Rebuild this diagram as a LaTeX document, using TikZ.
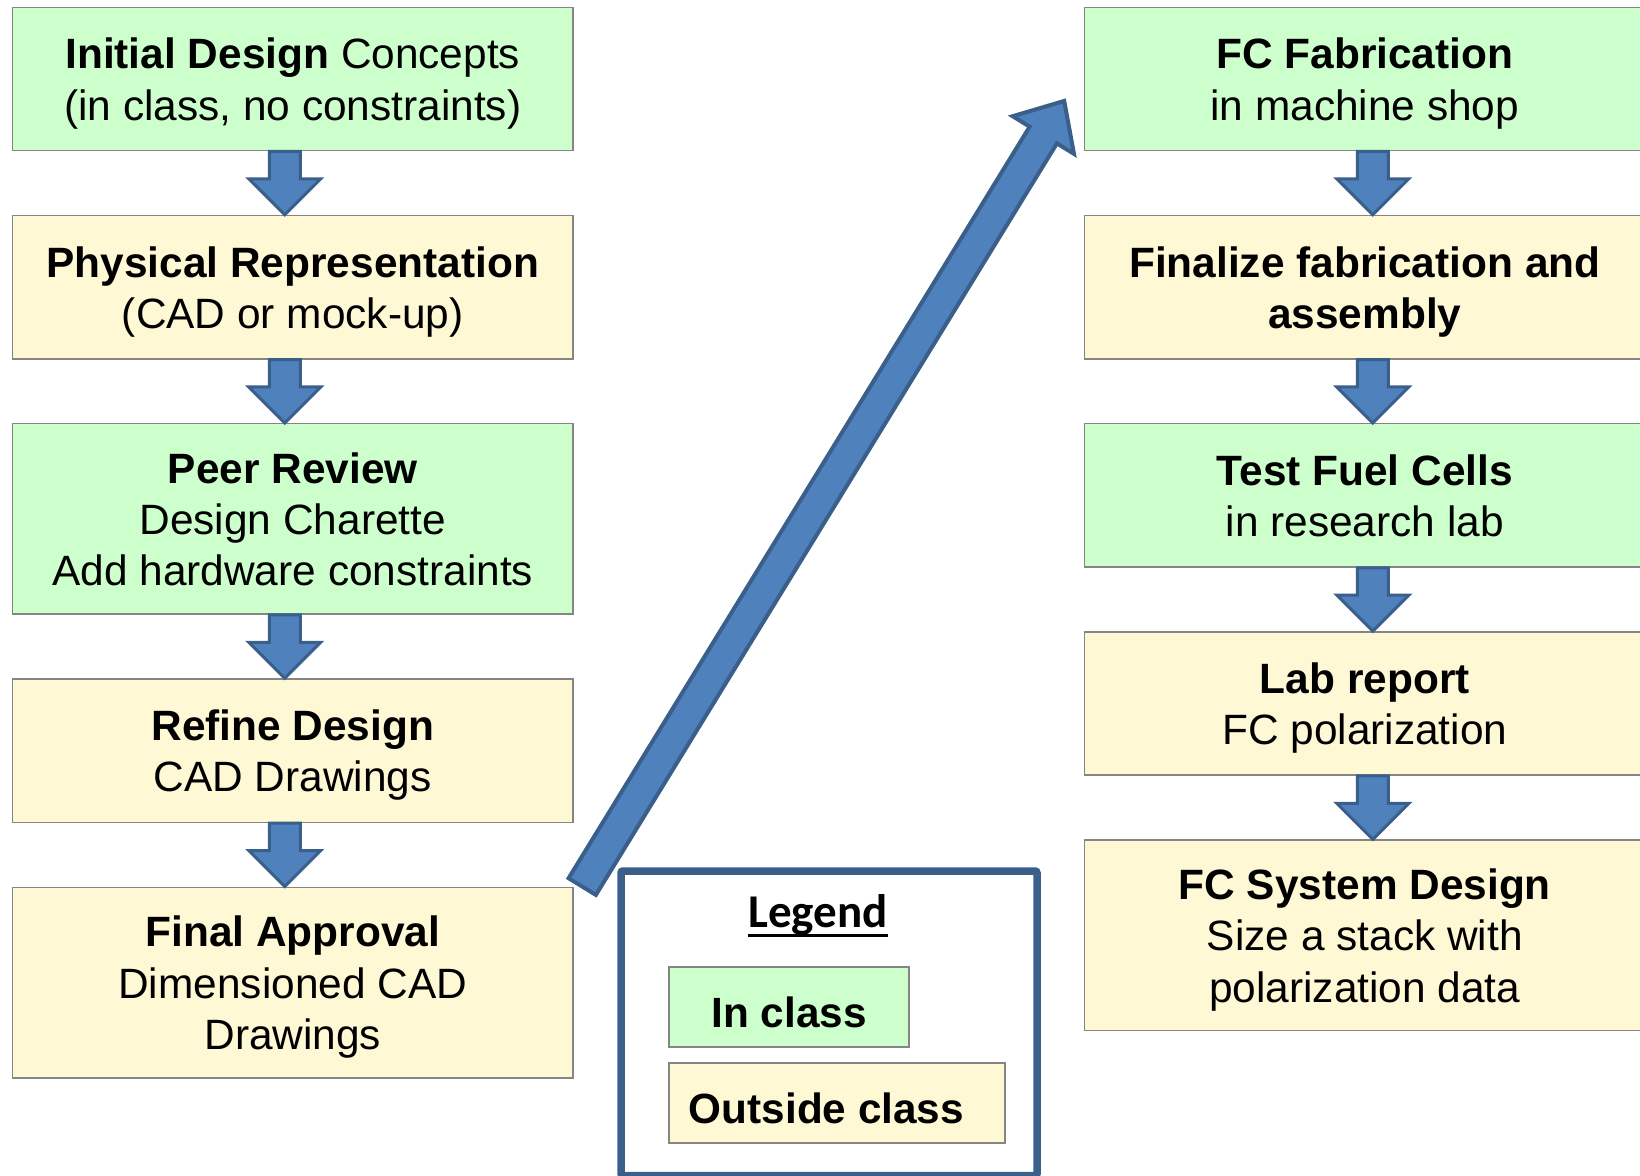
\documentclass[tikz,border=0pt]{standalone}
\usepackage{fontspec}
\setmainfont{Liberation Sans}
\newfontfamily\legendfont{Carlito}
\usetikzlibrary{calc}
\definecolor{boxgreen}{HTML}{CCFFCC}
\definecolor{boxyellow}{HTML}{FFF8D5}
\definecolor{boxedge}{HTML}{858585}
\definecolor{arrowfill}{HTML}{4F81BD}
\definecolor{arrowedge}{HTML}{3A5F8B}
\newcommand{\lstrut}{\rule[-9pt]{0pt}{49pt}}
\newcommand{\blockdown}[3]{%
  \draw[barrow] ($(#1.south)+(#3-15.5,0)$) -- ($(#2.north)+(#3-15.5,-36)$)
    -- ($(#2.north)+(#3-36,-36)$) -- ($(#2.north)+(#3,0)$)
    -- ($(#2.north)+(#3+36,-36)$) -- ($(#2.north)+(#3+15.5,-36)$)
    -- ($(#1.south)+(#3+15.5,0)$) -- cycle;}
\begin{document}
\begin{tikzpicture}[x=1pt,y=-1pt,
  stagebox/.style={draw=boxedge, line width=1.5pt, minimum width=560.5pt, inner sep=0pt, align=center, font=\fontsize{42.4}{51.3}\selectfont},
  stageshort/.style={minimum height=143.3pt},
  stagetall/.style={minimum height=190.5pt},
  inclass/.style={fill=boxgreen},
  outclass/.style={fill=boxyellow},
  barrow/.style={fill=arrowfill, draw=arrowedge, line width=3pt, line join=miter},
  bigarrow/.style={barrow, line width=4pt},
  legframe/.style={draw=arrowedge, line width=7.5pt, rounded corners=2pt, minimum width=416pt, minimum height=304.5pt, inner sep=0pt},
  legbox/.style={draw=boxedge, line width=1.5pt, minimum height=80pt, inner sep=0pt, text height=40pt, text depth=0pt, font=\fontsize{42.3}{50}\selectfont\bfseries}
]
\useasboundingbox (0,0) rectangle (1640,1175);
\clip (0,0) rectangle (1640,1175);

% left column
\node[stagebox,stageshort,inclass] (L1) at (292.75,78.95) {\lstrut\textbf{Initial Design} Concepts\\\lstrut(in class, no constraints)};
\node[stagebox,stageshort,outclass] (L2) at (292.75,287.15) {\lstrut\textbf{Physical Representation}\\\lstrut(CAD or mock-up)};
\node[stagebox,stagetall,inclass] (L3) at (292.75,518.95) {\lstrut\textbf{Peer Review}\\Design Charette\\\lstrut Add hardware constraints};
\node[stagebox,stageshort,outclass] (L4) at (292.75,750.75) {\lstrut\textbf{Refine Design}\\\lstrut CAD Drawings};
\node[stagebox,stagetall,outclass] (L5) at (292.75,982.55) {\lstrut\textbf{Final Approval}\\Dimensioned CAD\\\lstrut Drawings};

% right column
\node[stagebox,stageshort,inclass] (R1) at (1364.8,78.95) {\lstrut\textbf{FC Fabrication}\\\lstrut in machine shop};
\node[stagebox,stageshort,outclass] (R2) at (1364.8,287.15) {\lstrut\textbf{Finalize fabrication and}\\\lstrut\textbf{assembly}};
\node[stagebox,stageshort,inclass] (R3) at (1364.8,495.35) {\lstrut\textbf{Test Fuel Cells}\\\lstrut in research lab};
\node[stagebox,stageshort,outclass] (R4) at (1364.8,703.55) {\lstrut\textbf{Lab report}\\\lstrut FC polarization};
\node[stagebox,stagetall,outclass] (R5) at (1364.8,935.35) {\lstrut\textbf{FC System Design}\\Size a stack with\\\lstrut polarization data};

% small block arrows
\blockdown{L1}{L2}{-8}
\blockdown{L2}{L3}{-8}
\blockdown{L3}{L4}{-8}
\blockdown{L4}{L5}{-8}
\blockdown{R1}{R2}{8}
\blockdown{R2}{R3}{8}
\blockdown{R3}{R4}{8}
\blockdown{R4}{R5}{8}

% big diagonal arrow
\coordinate (bigtail) at ($(L5.north east)+(8.5,0)$);
\coordinate (bigtip) at ($(R1.west)+(-19.6,22)$);
\coordinate (hb) at ($(bigtip)!40pt!(bigtail)$);
\draw[bigarrow] ($(bigtail)!16pt!90:(bigtip)$) -- ($(hb)!16pt!90:(bigtip)$)
  -- ($(hb)!36pt!90:(bigtip)$) -- (bigtip) -- ($(hb)!36pt!-90:(bigtip)$)
  -- ($(hb)!16pt!-90:(bigtip)$) -- ($(bigtail)!16pt!-90:(bigtip)$) -- cycle;

% legend
\node[legframe] (legend) at (829,1023.25) {};
\node[anchor=base, inner sep=0pt, font=\legendfont\bfseries\fontsize{47}{56}\selectfont] (legtitle) at (818,927) {Legend};
\draw[line width=3pt] ($(legtitle.base west)+(0,8.5)$) -- ($(legtitle.base east)+(0,8.5)$);
\node[legbox,inclass,minimum width=240pt] (keyin) at (789,1007) {In class};
\node[legbox,outclass,minimum width=336pt] (keyout) at (837,1103) {\hspace*{-21pt}Outside class};
\end{tikzpicture}
\end{document}
